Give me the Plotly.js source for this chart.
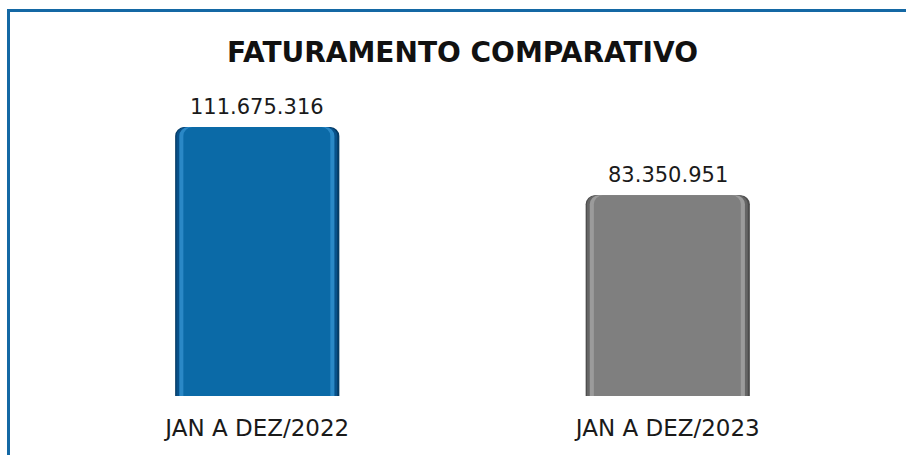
<!DOCTYPE html>
<html>
<head>
<meta charset="utf-8">
<script src="https://cdn.plot.ly/plotly-3.0.1.min.js"></script>
<style>
  html, body { margin: 0; padding: 0; background: #ffffff; }
  #chart { width: 906px; height: 455px; position: relative; }
  #frame { position: absolute; left: 7px; top: 9px; width: 899px; height: 446px;
           border-left: 3px solid #1468a4; border-top: 3px solid #1468a4;
           box-sizing: border-box; pointer-events: none; }
</style>
</head>
<body>
<div id="chart"></div>
<div id="frame"></div>
<script>
const categories = ["JAN A DEZ/2022", "JAN A DEZ/2023"];
const values = [111675316, 83350951];
const valueLabels = ["111.675.316", "83.350.951"];

const mainColors = ["#0b6aa7", "#7f7f7f"];
const darkestColors = ["#053a63", "#4c4c4c"];
const darkColors = ["#08518a", "#656565"];
const lightColors = ["#2a88c6", "#9b9b9b"];

function layer(colors, offset, width) {
  return {
    type: "bar", x: categories, y: values, offset: offset, width: width,
    marker: { color: colors, cornerradius: 9 },
    hoverinfo: "skip", showlegend: false
  };
}

const traces = [
  layer(darkestColors, -0.2, 0.4),
  layer(darkColors, -0.197, 0.392),
  layer(lightColors, -0.19, 0.378),
  layer(mainColors, -0.18, 0.358)
];

const annotations = categories.map((c, i) => ({
  x: c, y: values[i], xref: "x", yref: "y",
  text: valueLabels[i], showarrow: false,
  xanchor: "center", yanchor: "bottom", yshift: 6,
  font: { family: "'DejaVu Sans', sans-serif", size: 21, color: "#1a1a1a" }
}));

const layout = {
  width: 906, height: 455,
  margin: { l: 52, r: 33, t: 100, b: 59 },
  paper_bgcolor: "#ffffff", plot_bgcolor: "#ffffff",
  barmode: "overlay",
  title: {
    text: "<b>FATURAMENTO COMPARATIVO</b>",
    xref: "paper", x: 0.5, xanchor: "center", y: 0.885, yanchor: "middle",
    font: { family: "'DejaVu Sans', sans-serif", size: 28, color: "#111111" }
  },
  xaxis: {
    showgrid: false, zeroline: false, showline: false, ticks: "",
    ticklabelstandoff: 16,
    tickfont: { family: "'DejaVu Sans', sans-serif", size: 23, color: "#1a1a1a" }
  },
  yaxis: {
    range: [0, 122900000], visible: false, showgrid: false, zeroline: false
  },
  annotations: annotations,
  font: { family: "'DejaVu Sans', sans-serif" }
};

Plotly.newPlot("chart", traces, layout, { displayModeBar: false, staticPlot: true });
</script>
</body>
</html>
